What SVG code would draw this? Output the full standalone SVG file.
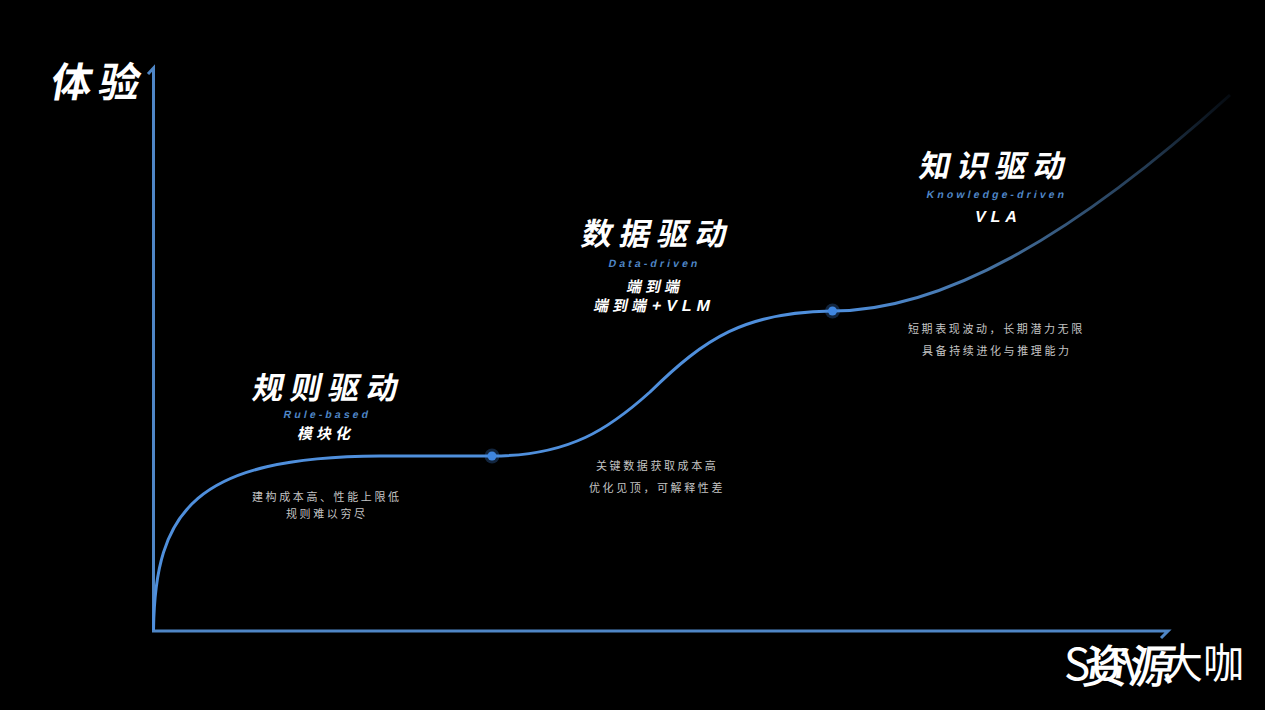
<svg xmlns="http://www.w3.org/2000/svg" width="1265" height="710" viewBox="0 0 1265 710">
<style>
text{font-family:"Noto Sans CJK SC","Noto Sans",sans-serif;fill:#fff}
.t{font-size:31px;font-weight:700;letter-spacing:7px}
.e{font-family:"Liberation Sans","Noto Sans CJK SC",sans-serif;font-size:10.500px;font-weight:700;fill:#4f86c6;letter-spacing:3.100px}
.s{font-size:15px;font-weight:700;letter-spacing:4px}
.l{font-family:"Liberation Sans",sans-serif;font-size:16px;font-weight:700;letter-spacing:5px}
.d{font-size:11px;fill:#c4c4c4;letter-spacing:2.600px}
.ax{fill:none;stroke:#4f86c6;stroke-width:3}
.dot{fill:#3f86e0}
.halo{fill:#3f86e0;opacity:.28}
</style>
<defs>
<linearGradient id="fade" gradientUnits="userSpaceOnUse" x1="840" y1="0" x2="1230" y2="0">
<stop offset="0" stop-color="#4f8fdc"/><stop offset=".4" stop-color="#44709f"/><stop offset=".8" stop-color="#22384f"/><stop offset="1" stop-color="#050a10"/>
</linearGradient>
</defs>
<rect width="1265" height="710" fill="#000"/>
<g id="connectors">
<path class="ax" d="M148 74 L153.500 68 V631 H1168 L1161 638"/>
<path d="M153.500 630 C155 510 195 457 380 456 H492 C570 456 610 428 650 392 C705 338 745 312 832 311" fill="none" stroke="#4f8fdc" stroke-width="3"/>
<path d="M832 311 C940 311 1070 240 1230 95" fill="none" stroke="url(#fade)" stroke-width="3"/>
</g>
<g id="axis-y"><text transform="translate(49 97) skewX(-10)" font-size="41" font-weight="700" letter-spacing="7">体验</text></g>
<g id="point-1"><circle class="halo" cx="492" cy="456" r="7.500"/><circle class="dot" cx="492" cy="456" r="4.500"/></g>
<g id="point-2"><circle class="halo" cx="832.500" cy="311" r="7.500"/><circle class="dot" cx="832.500" cy="311" r="4.500"/></g>
<g id="stage-rule">
<text class="t" transform="translate(251 399) skewX(-12)">规则驱动</text>
<text class="e" transform="translate(283 418) skewX(-12)">Rule-based</text>
<text class="s" transform="translate(297 439) skewX(-12)">模块化</text>
<text class="d" x="252" y="501">建构成本高、性能上限低</text>
<text class="d" x="286" y="518">规则难以穷尽</text>
</g>
<g id="stage-data">
<text class="t" transform="translate(580 245) skewX(-12)">数据驱动</text>
<text class="e" transform="translate(608 267) skewX(-12)">Data-driven</text>
<text class="s" transform="translate(626 292) skewX(-12)">端到端</text>
<text class="s" transform="translate(593 311) skewX(-12)">端到端<tspan class="l" dx="1">+VLM</tspan></text>
<text class="d" x="596" y="470">关键数据获取成本高</text>
<text class="d" x="589" y="492">优化见顶，可解释性差</text>
</g>
<g id="stage-knowledge">
<text class="t" transform="translate(918 177) skewX(-12)">知识驱动</text>
<text class="e" transform="translate(926 198) skewX(-12)">Knowledge-driven</text>
<text class="l" transform="translate(974 222) skewX(-12)">VLA</text>
<text class="d" x="908" y="333">短期表现波动，长期潜力无限</text>
<text class="d" x="922" y="355">具备持续进化与推理能力</text>
</g>
<g id="watermark">
<text x="1064" y="680" font-size="44" font-family="Liberation Sans,Noto Sans CJK SC,sans-serif">SUV</text>
<text x="1162" y="678" font-size="41">大咖</text>
<text transform="translate(1081 683) skewX(-8)" font-size="46" font-weight="500">资源</text>
</g>
</svg>
